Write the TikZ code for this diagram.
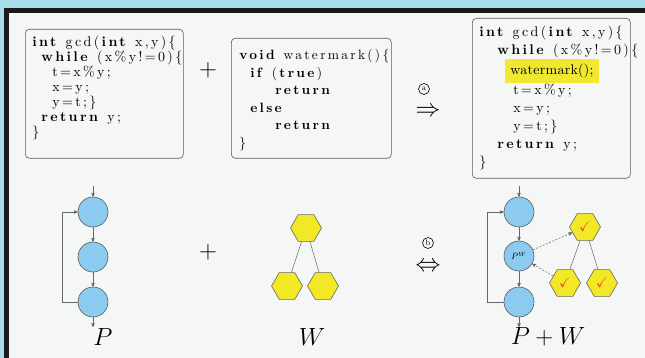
\documentclass[tikz,border=0pt]{standalone}
\usepackage{fontspec}
\usepackage{amssymb}
\usetikzlibrary{shapes.geometric, arrows, positioning, calc}

\newfontfamily\lmcode{lmroman10-regular.otf}[BoldFont=lmroman10-bold.otf, LetterSpace=17]
\newfontfamily\lmmark{lmroman10-regular.otf}[LetterSpace=2]

\definecolor{stripblue}{RGB}{168,220,234}
\definecolor{framegray}{RGB}{26,26,26}
\definecolor{paper}{RGB}{245,247,247}
\definecolor{blockblue}{RGB}{140,202,240}
\definecolor{hexyellow}{RGB}{242,232,38}
\definecolor{markyellow}{RGB}{240,232,48}
\definecolor{tickred}{RGB}{250,70,30}

\newcommand{\codefont}{\lmcode\fontsize{14}{15}\selectfont}

\tikzset{
  codebox/.style={draw=black!65, rounded corners=4pt, line width=0.6pt, anchor=north west, inner sep=0pt},
  codetext/.style={anchor=north west, align=left, inner sep=0pt, font=\codefont},
  block/.style={circle, draw=black!65, fill=blockblue, minimum size=30pt, inner sep=0pt},
  wmark/.style={regular polygon, regular polygon sides=6, draw=black!60, fill=hexyellow, minimum size=31pt, inner sep=0pt},
  circled/.style={circle, draw, minimum size=11pt, inner sep=0pt, font=\fontsize{8}{8}\selectfont},
  opsign/.style={inner sep=0pt, font=\fontsize{28}{30}\selectfont},
  setname/.style={font=\fontsize{25}{26}\selectfont},
}

\begin{document}
\begin{tikzpicture}[x=1pt, y=-1pt, >=stealth', semithick]
    % frame
    \fill[stripblue] (0,0) rectangle (645,358);
    \fill[framegray] (4,8) rectangle (645,358);
    \fill[paper] (9,13) rectangle (645,358);
    \useasboundingbox (0,0) rectangle (645,358);

    % source programs
    \node[codebox, minimum width=158pt, minimum height=129pt] (gcd) at (25,29) {};
    \node[codetext] (gcdcode) at (32,36) {%
      \textbf{int} gcd(\textbf{int} x,y)\{\\
      \hspace*{9pt}\textbf{while} (x\%y!=0)\{\\
      \hspace*{20pt}t=x\%y;\\
      \hspace*{20pt}x=y;\\
      \hspace*{20pt}y=t;\}\\
      \hspace*{9pt}\textbf{return} y;\\
      \}};
    \node[opsign] (plusA) at (208,70) {$+$};

    \node[codebox, minimum width=160pt, minimum height=120pt] (wm) at (231,38) {};
    \node[codetext, font=\codefont\fontsize{13.5}{17.6}\selectfont] (wmcode) at (239,49) {%
      \textbf{void} watermark()\{\\
      \hspace*{11pt}\textbf{if} (\textbf{true})\\
      \hspace*{36pt}\textbf{return}\\
      \hspace*{11pt}\textbf{else}\\
      \hspace*{36pt}\textbf{return}\\
      \}};

    \node[inner sep=0pt, font=\fontsize{30}{30}\selectfont] (stepA) at (428,112) {$\Rightarrow$};
    \node[circled] (tagA) at (424,89) {a};

    \node[codebox, minimum width=158pt, minimum height=160pt] (gcdwm) at (472,18) {};
    \node[codetext, font=\codefont\fontsize{14}{18}\selectfont] (gcdwmcode) at (479,26) {%
      \textbf{int} gcd(\textbf{int} x,y)\{\\
      \hspace*{18pt}\textbf{while} (x\%y!=0)\{\\
      \hspace*{26pt}{\fboxsep=5pt\colorbox{markyellow}{\lmmark watermark();}}\\
      \hspace*{34pt}t=x\%y;\\
      \hspace*{34pt}x=y;\\
      \hspace*{34pt}y=t;\}\\
      \hspace*{18pt}\textbf{return} y;\\
      \}};

    % program graph P
    \node[block] (p1) at (93,212) {};
    \node[block] (p2) at (93,257) {};
    \node[block] (p3) at (93,302) {};
    \coordinate (pin) at (93,186);
    \coordinate (pout) at (93,327);
    \node[setname] (labP) at (103,337) {$P$};
    \node[opsign] (plusB) at (208,252) {$+$};

    % watermark graph W
    \node[wmark] (w1) at (306,228) {};
    \node[wmark] (w2) at (287,286) {};
    \node[wmark] (w3) at (323,286) {};
    \node[setname] (labW) at (312,337) {$W$};

    \node[inner sep=0pt, font=\fontsize{33}{33}\selectfont] (stepB) at (428,267) {$\Leftrightarrow$};
    \node[circled] (tagB) at (428,243) {b};

    % embedded graph P+W
    \node[block] (q1) at (519,212) {};
    \node[block, font=\fontsize{9}{10}\selectfont] (q2) at (519,256) {$P^{W}$};
    \node[block] (q3) at (519,302) {};
    \coordinate (qin) at (519,186);
    \coordinate (qout) at (519,327);
    \node[wmark] (v1) at (585,227) {\fontsize{14}{14}\selectfont\color{tickred}$\checkmark$};
    \node[wmark] (v2) at (565,283) {\fontsize{14}{14}\selectfont\color{tickred}$\checkmark$};
    \node[wmark] (v3) at (602,283) {\fontsize{14}{14}\selectfont\color{tickred}$\checkmark$};
    \node[setname] (labPW) at (548,337) {$P+W$};

    \begin{scope}[draw=black!60, line width=0.5pt]
      \draw[->] (pin) -- (p1);
      \draw[->] (p1) -- (p2);
      \draw[->] (p2) -- (p3);
      \draw[->] (p3) -- (pout);
      \draw[->] (p3.west) -- ++(-15,0) |- (p1.west);
      \draw (w1) -- (w2);
      \draw (w1) -- (w3);
      \draw[->] (qin) -- (q1);
      \draw[->] (q1) -- (q2);
      \draw[->] (q2) -- (q3);
      \draw[->] (q3) -- (qout);
      \draw[->] (q3.west) -- ++(-16,0) |- (q1.west);
      \draw (v1) -- (v2);
      \draw (v1) -- (v3);
      \draw[->, dash pattern=on 2pt off 1.5pt] (q2) -- (v1);
      \draw[->, dash pattern=on 2pt off 1.5pt] (v2) -- (q2);
    \end{scope}
\end{tikzpicture}
\end{document}
